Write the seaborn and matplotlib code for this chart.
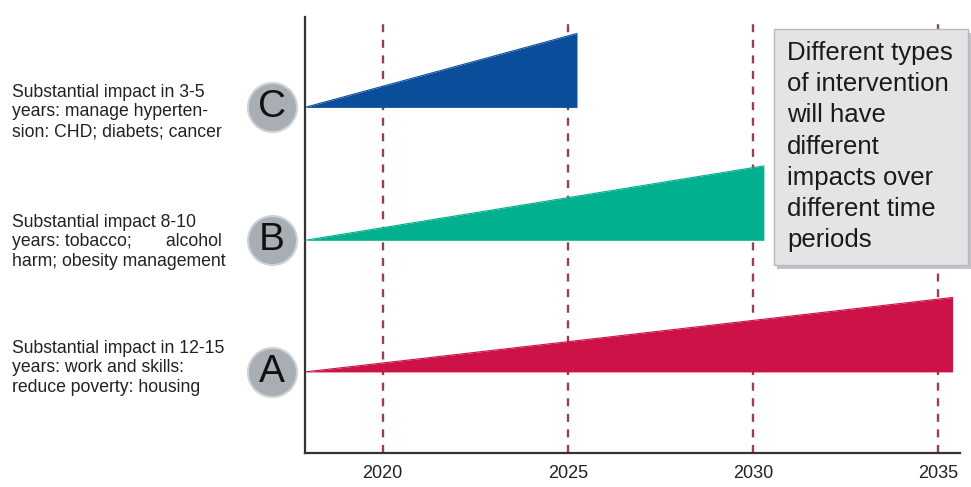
import numpy as np
import pandas as pd
import matplotlib
matplotlib.use("Agg")
import matplotlib.pyplot as plt
import seaborn as sns
from matplotlib.patches import FancyBboxPatch

# ---- data ----
rows = ["A", "B", "C"]
row_base = [0.61, 1.60, 2.60]
start_year = [2017.9, 2017.9, 2017.9]
end_year = [2035.4, 2030.3, 2025.25]
peak_height = [0.56, 0.56, 0.556]
colors = ["#cc1246", "#00b08e", "#0a4e9b"]
descriptions = [
    "Substantial impact in 12-15\nyears: work and skills:\nreduce poverty: housing",
    "Substantial impact 8-10\nyears: tobacco;       alcohol\nharm; obesity management",
    "Substantial impact in 3-5\nyears: manage hyperten-\nsion: CHD; diabets; cancer",
]
tick_years = [2020, 2025, 2030, 2035]
tick_labels = ["2020", "2025", "2030", "2035"]
box_text = ("Different types\nof intervention\nwill have\ndifferent\n"
            "impacts over\ndifferent time\nperiods")

sns.set_theme(style="white")
plt.rcParams["font.family"] = ["Liberation Sans", "DejaVu Sans"]

W, H = 971, 487
ax_l, ax_r, ax_b, ax_t = 305, 960, 453, 17
fig = plt.figure(figsize=(W / 100, H / 100), dpi=100)
ax = fig.add_axes([ax_l / W, 1 - ax_b / H, (ax_r - ax_l) / W, (ax_b - ax_t) / H])
ax.set_xlim(2017.9, 2035.6)
ax.set_ylim(0, 3.28)

for yr in tick_years:
    ax.axvline(yr, color="#98404f", lw=1.7, ls=(0, (3.4, 3.2)), zorder=1)

for i, r in enumerate(rows):
    df = pd.DataFrame({"year": [start_year[i], end_year[i]],
                       "top": [row_base[i], row_base[i] + peak_height[i]]})
    ax.fill_between(df["year"], row_base[i], df["top"], color=colors[i], lw=0, zorder=3)
    sns.lineplot(data=df, x="year", y="top", color=colors[i], lw=0.8, ax=ax, zorder=3)

# circles with letters
cx = 2017.0
ax.scatter([cx] * 3, row_base, s=1250, color="#a9aeb4", edgecolor="#cfd2d6",
           linewidth=1.5, clip_on=False, zorder=5)
for i, r in enumerate(rows):
    ax.text(cx, row_base[i], r, ha="center", va="center", fontsize=28,
            color="#111111", zorder=6, clip_on=False)
    fig.text(12 / W, 1 - (368, 242, 112)[i] / H, descriptions[i],
             ha="left", va="center", fontsize=12.7, color="#222222", linespacing=1.22)

ax.set_xticks(tick_years)
ax.set_xticklabels(tick_labels, fontsize=13, color="#222222")
ax.set_yticks([])
ax.tick_params(axis="x", length=0, pad=9)
ax.set_xlabel("")
ax.set_ylabel("")
for s in ["top", "right"]:
    ax.spines[s].set_visible(False)
for s in ["left", "bottom"]:
    ax.spines[s].set_color("#333333")
    ax.spines[s].set_linewidth(1.6)

# text box
bx0, by0, bx1, by1 = 774 / W, 1 - 265 / H, 968 / W, 1 - 29 / H
shadow = FancyBboxPatch((bx0 + 3 / W, by0 - 4 / H), bx1 - bx0, by1 - by0,
                        boxstyle="square,pad=0", transform=fig.transFigure,
                        facecolor="#9a9ca0", edgecolor="none", alpha=0.6, zorder=8)
box = FancyBboxPatch((bx0, by0), bx1 - bx0, by1 - by0, boxstyle="square,pad=0",
                     transform=fig.transFigure, facecolor="#e3e4e6",
                     edgecolor="#b8babd", lw=1, zorder=9)
fig.patches.extend([shadow, box])
fig.text(787 / W, 1 - 41 / H, box_text, ha="left", va="top", fontsize=18.5,
         color="#1a1a1a", linespacing=1.38, zorder=10)

fig.savefig("out.png", dpi=100)
